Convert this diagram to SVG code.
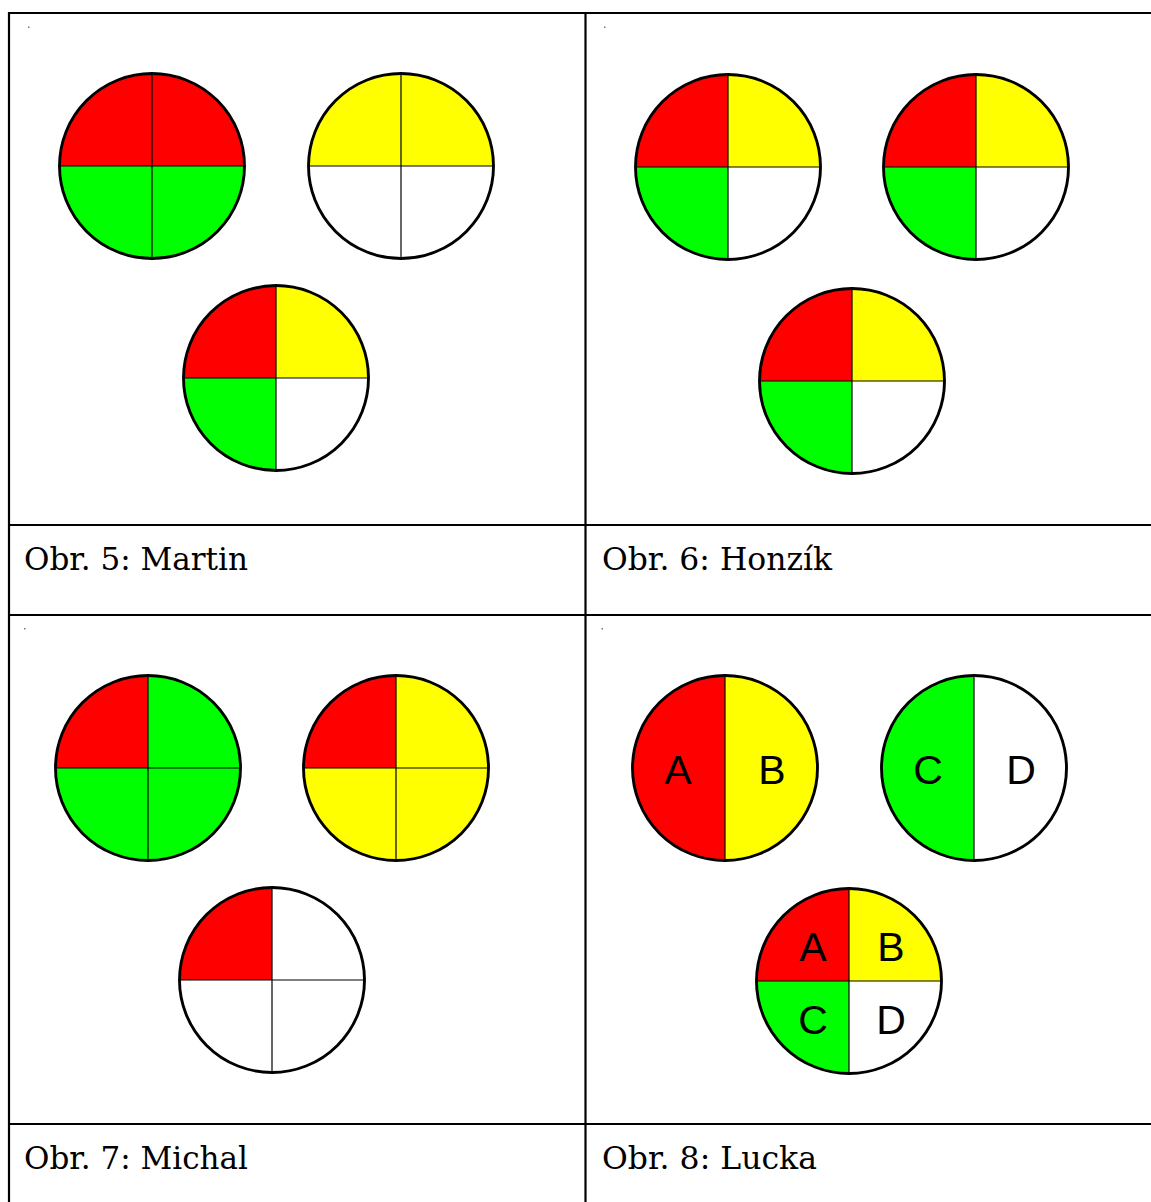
<svg xmlns="http://www.w3.org/2000/svg" xmlns:xlink="http://www.w3.org/1999/xlink" width="1151" height="1202" viewBox="0 0 1151 1202">
<style>
.grid{stroke:#000;stroke-width:2.2;fill:none}
.ring{fill:none;stroke:#000;stroke-width:2.9}
.div{stroke:#000;stroke-width:1.2}
.cap{font-family:"DejaVu Serif",serif;font-size:31px;fill:#000}
.let{font-family:"Liberation Sans",Arial,sans-serif;font-size:41px;fill:#000;text-anchor:middle}
.dot{fill:#777}
.r{fill:#ff0000}.y{fill:#ffff00}.g{fill:#00ff00}.w{fill:#ffffff}
</style>
<defs>
<path id="tl" d="M0,0 L-92.5,0 A92.5,92.5 0 0 1 0,-92.5 Z"/>
<path id="tr" d="M0,0 L0,-92.5 A92.5,92.5 0 0 1 92.5,0 Z"/>
<path id="br" d="M0,0 L92.5,0 A92.5,92.5 0 0 1 0,92.5 Z"/>
<path id="bl" d="M0,0 L0,92.5 A92.5,92.5 0 0 1 -92.5,0 Z"/>
<path id="lh" d="M0,-92.5 A92.5,92.5 0 0 0 0,92.5 Z"/>
<path id="rh" d="M0,-92.5 A92.5,92.5 0 0 1 0,92.5 Z"/>
<g id="cross"><line class="div" x1="-92.5" y1="0" x2="92.5" y2="0"/><line class="div" x1="0" y1="-92.5" x2="0" y2="92.5"/></g>
<circle id="ring" class="ring" r="92.5"/>
</defs>
<rect width="1151" height="1202" fill="#fff"/>
<g id="table">
<line class="grid" x1="8" y1="13" x2="1151" y2="13"/>
<line class="grid" x1="9" y1="12" x2="9" y2="1202"/>
<line class="grid" x1="585.5" y1="12" x2="585.5" y2="1202"/>
<line class="grid" x1="8" y1="525" x2="1151" y2="525"/>
<line class="grid" x1="8" y1="615" x2="1151" y2="615"/>
<line class="grid" x1="8" y1="1124" x2="1151" y2="1124"/>
<rect class="dot" x="28" y="26.5" width="1.5" height="1.5"/>
<rect class="dot" x="604" y="26.5" width="1.5" height="1.5"/>
<rect class="dot" x="24" y="628" width="1.5" height="1.5"/>
<rect class="dot" x="601.5" y="628" width="1.5" height="1.5"/>
</g>
<g id="cell-martin">
<g transform="translate(152,166)"><use href="#tl" class="r"/><use href="#tr" class="r"/><use href="#bl" class="g"/><use href="#br" class="g"/><use href="#cross"/><use href="#ring"/></g>
<g transform="translate(401,166)"><use href="#tl" class="y"/><use href="#tr" class="y"/><use href="#bl" class="w"/><use href="#br" class="w"/><use href="#cross"/><use href="#ring"/></g>
<g transform="translate(276,378)"><use href="#tl" class="r"/><use href="#tr" class="y"/><use href="#bl" class="g"/><use href="#br" class="w"/><use href="#cross"/><use href="#ring"/></g>
<text class="cap" x="24" y="570" textLength="224" lengthAdjust="spacingAndGlyphs">Obr. 5: Martin</text>
</g>
<g id="cell-honzik">
<g transform="translate(728,167)"><use href="#tl" class="r"/><use href="#tr" class="y"/><use href="#bl" class="g"/><use href="#br" class="w"/><use href="#cross"/><use href="#ring"/></g>
<g transform="translate(976,167)"><use href="#tl" class="r"/><use href="#tr" class="y"/><use href="#bl" class="g"/><use href="#br" class="w"/><use href="#cross"/><use href="#ring"/></g>
<g transform="translate(852,381)"><use href="#tl" class="r"/><use href="#tr" class="y"/><use href="#bl" class="g"/><use href="#br" class="w"/><use href="#cross"/><use href="#ring"/></g>
<text class="cap" x="602" y="570" textLength="230" lengthAdjust="spacingAndGlyphs">Obr. 6: Honzík</text>
</g>
<g id="cell-michal">
<g transform="translate(148,768)"><use href="#tl" class="r"/><use href="#tr" class="g"/><use href="#bl" class="g"/><use href="#br" class="g"/><use href="#cross"/><use href="#ring"/></g>
<g transform="translate(396,768)"><use href="#tl" class="r"/><use href="#tr" class="y"/><use href="#bl" class="y"/><use href="#br" class="y"/><use href="#cross"/><use href="#ring"/></g>
<g transform="translate(272,980)"><use href="#tl" class="r"/><use href="#tr" class="w"/><use href="#bl" class="w"/><use href="#br" class="w"/><use href="#cross"/><use href="#ring"/></g>
<text class="cap" x="24" y="1169" textLength="224" lengthAdjust="spacingAndGlyphs">Obr. 7: Michal</text>
</g>
<g id="cell-lucka">
<g transform="translate(725,768)"><use href="#lh" class="r"/><use href="#rh" class="y"/><line class="div" x1="0" y1="-92.5" x2="0" y2="92.5"/><use href="#ring"/>
<text class="let" x="-47" y="16">A</text><text class="let" x="47" y="16">B</text></g>
<g transform="translate(974,768)"><use href="#lh" class="g"/><use href="#rh" class="w"/><line class="div" x1="0" y1="-92.5" x2="0" y2="92.5"/><use href="#ring"/>
<text class="let" x="-46" y="16">C</text><text class="let" x="47" y="16">D</text></g>
<g transform="translate(849,981)"><use href="#tl" class="r"/><use href="#tr" class="y"/><use href="#bl" class="g"/><use href="#br" class="w"/><use href="#cross"/><use href="#ring"/>
<text class="let" x="-36" y="-20">A</text><text class="let" x="42" y="-20">B</text><text class="let" x="-36" y="53">C</text><text class="let" x="42" y="53">D</text></g>
<text class="cap" x="602" y="1169" textLength="215" lengthAdjust="spacingAndGlyphs">Obr. 8: Lucka</text>
</g>
</svg>
